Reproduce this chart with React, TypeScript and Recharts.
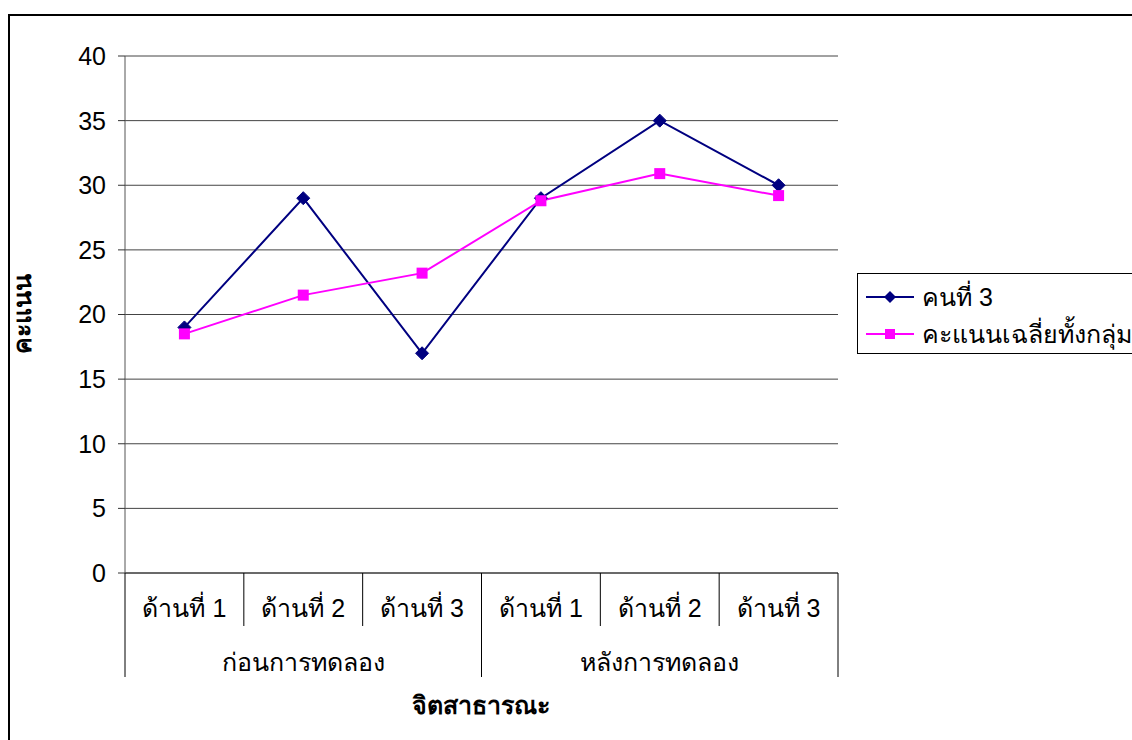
import React from 'react';
import { LineChart, Line, XAxis, YAxis, CartesianGrid } from 'recharts';

const categories = ['ด้านที่ 1', 'ด้านที่ 2', 'ด้านที่ 3', 'ด้านที่ 1', 'ด้านที่ 2', 'ด้านที่ 3'];
const groups = ['ก่อนการทดลอง', 'หลังการทดลอง'];
const perGroup = 3;
const person3 = [19, 29, 17, 29, 35, 30];
const groupAvg = [18.5, 21.5, 23.2, 28.8, 30.9, 29.2];
const yTicks = [0, 5, 10, 15, 20, 25, 30, 35, 40];

const seriesNames = { person3: 'คนที่ 3', groupAvg: 'คะแนนเฉลี่ยทั้งกลุ่ม' };

const data = categories.map((c, i) => ({
  key: `${i}`,
  label: c,
  person3: person3[i],
  groupAvg: groupAvg[i],
}));

const W = 1132;
const H = 740;
const PLOT_LEFT = 125;
const PLOT_RIGHT = 838;
const PLOT_TOP = 56;
const PLOT_BOTTOM = 573;
const Y_AXIS_W = 80;
const X_AXIS_H = 110;
const BAND = (PLOT_RIGHT - PLOT_LEFT) / categories.length;

const FONT = '"Liberation Sans", Arial, sans-serif';
const FS = 25;
const NAVY = '#000080';
const MAGENTA = '#FF00FF';

const Diamond = (props: any) => {
  const { cx, cy } = props;
  if (cx == null || cy == null) return null;
  const r = 6.5;
  return <polygon points={`${cx},${cy - r} ${cx + r},${cy} ${cx},${cy + r} ${cx - r},${cy}`} fill={NAVY} stroke={NAVY} />;
};

const Square = (props: any) => {
  const { cx, cy } = props;
  if (cx == null || cy == null) return null;
  const s = 5.5;
  return <rect x={cx - s} y={cy - s} width={s * 2} height={s * 2} fill={MAGENTA} />;
};

const CategoryTick = (props: any) => {
  const { x, y, payload, index } = props;
  const i = index ?? Number(payload.value);
  const right = x + BAND / 2;
  const left = x - BAND / 2;
  const groupEnd = (i + 1) % perGroup === 0;
  const isMid = i % perGroup === 1;
  return (
    <g>
      {i === 0 && <line x1={left} y1={y} x2={left} y2={y + 104} stroke="#000" strokeWidth={1} />}
      <line x1={right} y1={y} x2={right} y2={y + (groupEnd ? 104 : 53)} stroke="#000" strokeWidth={1} />
      <text x={x} y={y + 44} textAnchor="middle" fontSize={FS} fontFamily={FONT} fill="#000">
        {categories[i]}
      </text>
      {isMid && (
        <text x={x} y={y + 98} textAnchor="middle" fontSize={FS} fontFamily={FONT} fill="#000">
          {groups[Math.floor(i / perGroup)]}
        </text>
      )}
    </g>
  );
};

const LegendMarker = ({ color, shape }: { color: string; shape: 'diamond' | 'square' }) => (
  <svg width={48} height={20} style={{ display: 'block' }}>
    <line x1={0} y1={10} x2={48} y2={10} stroke={color} strokeWidth={2} />
    {shape === 'diamond' ? (
      <polygon points="24,4 30,10 24,16 18,10" fill={color} />
    ) : (
      <rect x={19} y={5} width={10} height={10} fill={color} />
    )}
  </svg>
);

export default function App() {
  return (
    <div style={{ position: 'fixed', left: 0, top: 0, width: W, height: H, overflow: 'hidden', background: '#fff' }}>
      <div
        style={{
          position: 'absolute',
          left: 8,
          top: 14,
          width: 1300,
          height: 900,
          border: '2px solid #000',
          boxSizing: 'border-box',
        }}
      />
      <div style={{ position: 'absolute', left: 0, top: 0 }}>
        <LineChart
          width={W}
          height={H}
          data={data}
          margin={{
            top: PLOT_TOP,
            left: PLOT_LEFT - Y_AXIS_W,
            right: W - PLOT_RIGHT,
            bottom: H - PLOT_BOTTOM - X_AXIS_H,
          }}
        >
          <CartesianGrid vertical={false} stroke="#444" strokeWidth={1} />
          <XAxis
            dataKey="key"
            scale="band"
            height={X_AXIS_H}
            tickLine={false}
            tickSize={0}
            tickMargin={0}
            interval={0}
            axisLine={{ stroke: '#333' }}
            tick={<CategoryTick />}
          />
          <YAxis
            domain={[0, 40]}
            ticks={yTicks}
            width={Y_AXIS_W}
            tickSize={7}
            tickMargin={12}
            tickLine={{ stroke: '#333' }}
            axisLine={{ stroke: '#555' }}
            tick={{ fontSize: FS, fontFamily: FONT, fill: '#000' }}
          />
          <YAxis yAxisId="frame" orientation="right" width={0} tick={false} tickLine={false} axisLine={{ stroke: '#888' }} />
          <Line
            dataKey="person3"
            name={seriesNames.person3}
            stroke={NAVY}
            strokeWidth={2}
            dot={<Diamond />}
            activeDot={false}
            isAnimationActive={false}
          />
          <Line
            dataKey="groupAvg"
            name={seriesNames.groupAvg}
            stroke={MAGENTA}
            strokeWidth={2}
            dot={<Square />}
            activeDot={false}
            isAnimationActive={false}
          />
        </LineChart>
      </div>
      <div
        style={{
          position: 'absolute',
          left: 22,
          top: 314,
          transform: 'translate(-50%, -50%) rotate(-90deg)',
          fontFamily: FONT,
          fontWeight: 'bold',
          fontSize: FS,
          whiteSpace: 'nowrap',
        }}
      >
        คะแนน
      </div>
      <div
        style={{
          position: 'absolute',
          left: 481,
          top: 705,
          transform: 'translate(-50%, -50%)',
          fontFamily: FONT,
          fontWeight: 'bold',
          fontSize: FS,
          whiteSpace: 'nowrap',
        }}
      >
        จิตสาธารณะ
      </div>
      <div
        style={{
          position: 'absolute',
          left: 857,
          top: 273,
          width: 320,
          height: 81,
          border: '1px solid #000',
          boxSizing: 'border-box',
          fontFamily: FONT,
          fontSize: FS,
          padding: '6px 0 0 8px',
        }}
      >
        <div style={{ display: 'flex', alignItems: 'center', gap: 8, height: 34 }}>
          <LegendMarker color={NAVY} shape="diamond" />
          <span>{seriesNames.person3}</span>
        </div>
        <div style={{ display: 'flex', alignItems: 'center', gap: 8, height: 40 }}>
          <LegendMarker color={MAGENTA} shape="square" />
          <span>{seriesNames.groupAvg}</span>
        </div>
      </div>
    </div>
  );
}
